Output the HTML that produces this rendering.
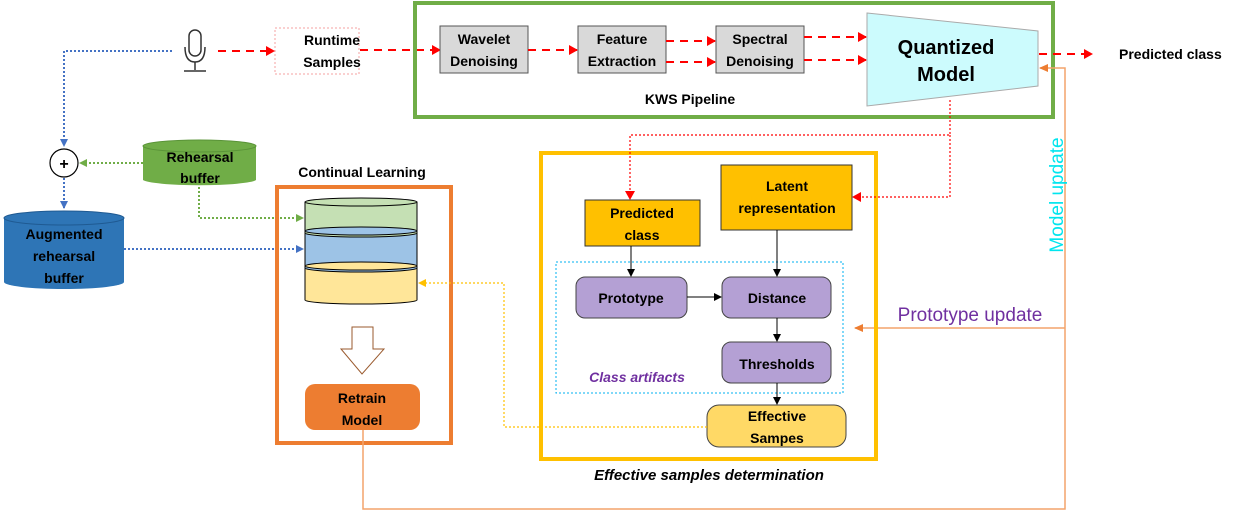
<!DOCTYPE html>
<html><head><meta charset="utf-8"><style>
html,body{margin:0;padding:0;background:#fff;}
svg{display:block;font-family:"Liberation Sans",sans-serif;}
.b{font-weight:bold;font-size:14px;fill:#000;}
</style></head><body>
<svg width="1246" height="511" viewBox="0 0 1246 511" xmlns="http://www.w3.org/2000/svg">
<defs>
<marker id="ar" markerWidth="9" markerHeight="10" refX="8" refY="5" orient="auto" markerUnits="userSpaceOnUse"><path d="M0,0 L9,5 L0,10z" fill="#ff0000"/></marker>
<marker id="ab" markerWidth="8" markerHeight="8" refX="7" refY="4" orient="auto" markerUnits="userSpaceOnUse"><path d="M0,0 L8,4 L0,8z" fill="#4472c4"/></marker>
<marker id="ag" markerWidth="8" markerHeight="8" refX="7" refY="4" orient="auto" markerUnits="userSpaceOnUse"><path d="M0,0 L8,4 L0,8z" fill="#70ad47"/></marker>
<marker id="ay" markerWidth="8" markerHeight="8" refX="7" refY="4" orient="auto" markerUnits="userSpaceOnUse"><path d="M0,0 L8,4 L0,8z" fill="#ffc000"/></marker>
<marker id="ao" markerWidth="9" markerHeight="8" refX="8" refY="4" orient="auto" markerUnits="userSpaceOnUse"><path d="M0,0 L9,4 L0,8z" fill="#ed7d31"/></marker>
<marker id="ak" markerWidth="8" markerHeight="8" refX="7" refY="4" orient="auto" markerUnits="userSpaceOnUse"><path d="M0,0 L8,4 L0,8z" fill="#000"/></marker>
</defs>

<rect x="189" y="30" width="12" height="26" rx="6" fill="none" stroke="#333" stroke-width="1.5"/>
<path d="M185,47 Q185,62 195,62 Q205,62 205,47" fill="none" stroke="#333" stroke-width="1.5"/>
<line x1="195" y1="62" x2="195" y2="70" stroke="#333" stroke-width="1.5"/>
<line x1="184" y1="71" x2="206" y2="71" stroke="#333" stroke-width="1.5"/>

<rect x="275" y="28" width="84" height="46" fill="none" stroke="#f4a0a0" stroke-dasharray="2,2"/>
<text class="b" x="332" y="45" text-anchor="middle">Runtime</text>
<text class="b" x="332" y="67" text-anchor="middle">Samples</text>
<line x1="218" y1="51" x2="274" y2="51" stroke="#ff0000" stroke-width="2" stroke-dasharray="8,6" marker-end="url(#ar)"/>
<line x1="360" y1="50" x2="440" y2="50" stroke="#ff0000" stroke-width="2" stroke-dasharray="8,6" marker-end="url(#ar)"/>

<rect x="415" y="3" width="638" height="114" fill="none" stroke="#70ad47" stroke-width="4"/>
<rect x="440" y="26" width="88" height="47" fill="#d9d9d9" stroke="#555"/>
<text class="b" x="484" y="44" text-anchor="middle">Wavelet</text>
<text class="b" x="484" y="66" text-anchor="middle">Denoising</text>
<rect x="578" y="26" width="88" height="47" fill="#d9d9d9" stroke="#555"/>
<text class="b" x="622" y="44" text-anchor="middle">Feature</text>
<text class="b" x="622" y="66" text-anchor="middle">Extraction</text>
<rect x="716" y="26" width="88" height="47" fill="#d9d9d9" stroke="#555"/>
<text class="b" x="760" y="44" text-anchor="middle">Spectral</text>
<text class="b" x="760" y="66" text-anchor="middle">Denoising</text>
<line x1="528" y1="50" x2="577" y2="50" stroke="#ff0000" stroke-width="2" stroke-dasharray="8,6" marker-end="url(#ar)"/>
<line x1="666" y1="41" x2="715" y2="41" stroke="#ff0000" stroke-width="2" stroke-dasharray="8,6" marker-end="url(#ar)"/>
<line x1="666" y1="62" x2="715" y2="62" stroke="#ff0000" stroke-width="2" stroke-dasharray="8,6" marker-end="url(#ar)"/>
<line x1="804" y1="37" x2="866" y2="37" stroke="#ff0000" stroke-width="2" stroke-dasharray="8,6" marker-end="url(#ar)"/>
<line x1="804" y1="60" x2="866" y2="60" stroke="#ff0000" stroke-width="2" stroke-dasharray="8,6" marker-end="url(#ar)"/>
<polygon points="867,13 1038,31 1038,86 867,106" fill="#ccfbfd" stroke="#aaa"/>
<text x="946" y="54" text-anchor="middle" font-size="20" font-weight="bold">Quantized</text>
<text x="946" y="81" text-anchor="middle" font-size="20" font-weight="bold">Model</text>
<text class="b" x="690" y="104" text-anchor="middle" font-size="14">KWS Pipeline</text>
<line x1="1039" y1="54" x2="1092" y2="54" stroke="#ff0000" stroke-width="2" stroke-dasharray="8,6" marker-end="url(#ar)"/>
<text class="b" x="1119" y="59" font-size="14">Predicted class</text>

<polyline points="172,51 64,51 64,146" fill="none" stroke="#4472c4" stroke-width="2" stroke-dasharray="2,2" marker-end="url(#ab)"/>
<circle cx="64" cy="163" r="14" fill="#fff" stroke="#000" stroke-width="1.2"/>
<text x="64" y="169" text-anchor="middle" font-size="16" font-weight="bold">+</text>
<line x1="64" y1="178" x2="64" y2="208" stroke="#4472c4" stroke-width="2" stroke-dasharray="2,2" marker-end="url(#ab)"/>
<line x1="143" y1="163" x2="80" y2="163" stroke="#70ad47" stroke-width="2" stroke-dasharray="2,2" marker-end="url(#ag)"/>
<path d="M143,146 L143,180 A57,6 0 0 0 256,180 L256,146" fill="#70ad47"/>
<ellipse cx="199.5" cy="146" rx="56.5" ry="6" fill="#70ad47" stroke="#5a9438"/>
<text class="b" x="200" y="162" text-anchor="middle">Rehearsal</text>
<text class="b" x="200" y="183" text-anchor="middle">buffer</text>
<polyline points="199,187 199,218 303,218" fill="none" stroke="#70ad47" stroke-width="2" stroke-dasharray="2,2" marker-end="url(#ag)"/>
<path d="M4,218 L4,282 A60,7 0 0 0 124,282 L124,218" fill="#2e75b6"/>
<ellipse cx="64" cy="218" rx="60" ry="7" fill="#2e75b6" stroke="#1f5a92"/>
<text class="b" x="64" y="239" text-anchor="middle">Augmented</text>
<text class="b" x="64" y="261" text-anchor="middle">rehearsal</text>
<text class="b" x="64" y="283" text-anchor="middle">buffer</text>
<line x1="124" y1="249" x2="303" y2="249" stroke="#4472c4" stroke-width="2" stroke-dasharray="2,2" marker-end="url(#ab)"/>

<text class="b" x="362" y="177" text-anchor="middle">Continual Learning</text>
<rect x="277" y="187" width="174" height="256" fill="none" stroke="#ed7d31" stroke-width="4"/>
<path d="M305,268 L305,300 A56,4 0 0 0 417,300 L417,268" fill="#ffe699" stroke="#000"/>
<path d="M305,233 L305,268 A56,4 0 0 0 417,268 L417,233" fill="#9dc3e6" stroke="#000"/>
<ellipse cx="361" cy="266" rx="56" ry="4" fill="#ffe699" stroke="#000"/>
<path d="M305,202 L305,233 A56,4 0 0 0 417,233 L417,202" fill="#c5e0b4" stroke="#000"/>
<ellipse cx="361" cy="231" rx="56" ry="4" fill="#9dc3e6" stroke="#000"/>
<ellipse cx="361" cy="202" rx="56" ry="4" fill="#c5e0b4" stroke="#000"/>
<polygon points="352,327 373,327 373,349 384,349 362,374 341,349 352,349" fill="#fff" stroke="#9a5a2e"/>
<rect x="305" y="384" width="115" height="46" rx="10" fill="#ed7d31"/>
<text class="b" x="362" y="403" text-anchor="middle">Retrain</text>
<text class="b" x="362" y="425" text-anchor="middle">Model</text>

<polyline points="363,430 363,509 1065,509 1065,68 1040,68" fill="none" stroke="#f4a46b" stroke-width="1.5" marker-end="url(#ao)"/>
<line x1="1065" y1="328" x2="855" y2="328" stroke="#f4a46b" stroke-width="1.5" marker-end="url(#ao)"/>
<text x="1056" y="195" text-anchor="middle" font-size="19" fill="#00e5ee" transform="rotate(-90 1056 195)" dy="7">Model update</text>
<text x="970" y="321" text-anchor="middle" font-size="19" fill="#7030a0">Prototype update</text>

<rect x="541" y="153" width="335" height="306" fill="none" stroke="#ffc000" stroke-width="4"/>
<polyline points="950,100 950,135 630,135 630,199" fill="none" stroke="#ff0000" stroke-width="1.2" stroke-dasharray="2,2" marker-end="url(#ar)"/>
<polyline points="950,135 950,197 853,197" fill="none" stroke="#ff0000" stroke-width="1.2" stroke-dasharray="2,2" marker-end="url(#ar)"/>
<rect x="585" y="200" width="115" height="46" fill="#ffc000" stroke="#333"/>
<text class="b" x="642" y="218" text-anchor="middle">Predicted</text>
<text class="b" x="642" y="240" text-anchor="middle">class</text>
<rect x="721" y="165" width="131" height="65" fill="#ffc000" stroke="#333"/>
<text class="b" x="787" y="191" text-anchor="middle">Latent</text>
<text class="b" x="787" y="213" text-anchor="middle">representation</text>
<rect x="556" y="262" width="287" height="131" fill="none" stroke="#00b0f0" stroke-dasharray="2,2"/>
<rect x="576" y="277" width="111" height="41" rx="9" fill="#b4a0d4" stroke="#444"/>
<text class="b" x="631" y="303" text-anchor="middle">Prototype</text>
<rect x="722" y="277" width="109" height="41" rx="9" fill="#b4a0d4" stroke="#444"/>
<text class="b" x="777" y="303" text-anchor="middle">Distance</text>
<rect x="722" y="342" width="109" height="41" rx="9" fill="#b4a0d4" stroke="#444"/>
<text class="b" x="777" y="369" text-anchor="middle">Thresholds</text>
<text x="637" y="382" text-anchor="middle" font-size="14" font-weight="bold" font-style="italic" fill="#7030a0">Class artifacts</text>
<rect x="707" y="405" width="139" height="42" rx="12" fill="#ffd966" stroke="#444"/>
<text class="b" x="777" y="421" text-anchor="middle">Effective</text>
<text class="b" x="777" y="443" text-anchor="middle">Sampes</text>
<line x1="631" y1="246" x2="631" y2="276" stroke="#000" marker-end="url(#ak)"/>
<line x1="777" y1="230" x2="777" y2="276" stroke="#000" marker-end="url(#ak)"/>
<line x1="687" y1="297" x2="721" y2="297" stroke="#000" marker-end="url(#ak)"/>
<line x1="777" y1="318" x2="777" y2="341" stroke="#000" marker-end="url(#ak)"/>
<line x1="777" y1="383" x2="777" y2="404" stroke="#000" marker-end="url(#ak)"/>
<polyline points="707,427 504,427 504,283 419,283" fill="none" stroke="#ffc000" stroke-width="1.2" stroke-dasharray="2,2" marker-end="url(#ay)"/>
<text x="709" y="480" text-anchor="middle" font-size="15" font-weight="bold" font-style="italic">Effective samples determination</text>
</svg>
</body></html>
